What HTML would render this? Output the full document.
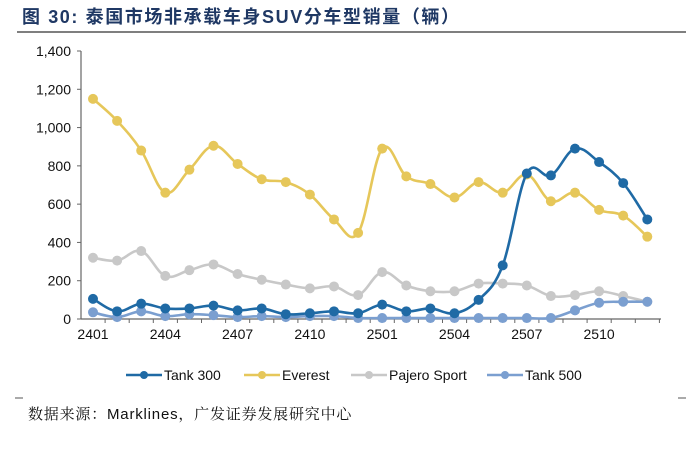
<!DOCTYPE html>
<html><head><meta charset="utf-8"><style>
body{margin:0;background:#fff;width:700px;height:447px;overflow:hidden;font-family:"Liberation Sans","Noto Sans CJK SC",sans-serif}
</style></head><body>
<svg id="c" width="700" height="447" xmlns="http://www.w3.org/2000/svg">
<text x="22" y="23" font-size="18" font-weight="bold" letter-spacing="1.6" fill="#1f3864" font-family="Liberation Sans, Noto Sans CJK SC, sans-serif">图 30: 泰国市场非承载车身SUV分车型销量（辆）</text>
<line x1="17" y1="32" x2="686" y2="32" stroke="#333" stroke-width="1.2"/>
<g id="axes"></g>
<g id="series"></g>
<g id="legend"></g>
<line x1="15" y1="398" x2="23" y2="398" stroke="#555"/>
<line x1="678" y1="398" x2="686" y2="398" stroke="#555"/>
<text x="28" y="419" font-size="15" letter-spacing="0.8" fill="#111" font-family="Liberation Sans, Noto Serif CJK SC, sans-serif">数据来源：Marklines，广发证券发展研究中心</text>
</svg>
<script>
const categories=["2401","2402","2403","2404","2405","2406","2407","2408","2409","2410","2411","2412","2501","2502","2503","2504","2505","2506","2507","2508","2509","2510","2511","2512"];
const tank300=[105,40,80,55,55,70,45,55,25,30,40,30,75,40,55,30,100,280,760,750,890,820,710,520];
const everest=[1150,1035,880,660,780,905,810,730,715,650,520,450,890,745,705,635,715,660,755,615,660,570,540,430];
const pajero=[320,305,355,225,255,285,235,205,180,160,170,125,245,175,145,145,185,185,175,120,125,145,120,90];
const tank500=[35,10,40,15,25,20,10,15,10,15,15,5,5,5,5,5,5,5,5,5,45,85,90,90];
const yTicks=[0,200,400,600,800,1000,1200,1400];
const yTickLabels=["0","200","400","600","800","1,000","1,200","1,400"];
const seriesNames=["Tank 300","Everest","Pajero Sport","Tank 500"];
const NS="http://www.w3.org/2000/svg";
const X0=81,STEP=24.1,Y0=319,YTOP=51,YMAX=1400;
const x=i=>X0+12+i*STEP;
const y=v=>Y0-(v/YMAX)*(Y0-YTOP);
function mk(t,a,p){const e=document.createElementNS(NS,t);for(const k in a)e.setAttribute(k,a[k]);p.appendChild(e);return e;}
const axes=document.getElementById('axes');
let e=mk('line',{x1:X0,y1:YTOP,x2:X0,y2:Y0,stroke:'#666','stroke-width':1.2},axes);

e=mk('line',{x1:X0,y1:Y0,x2:661,y2:Y0,stroke:'#666','stroke-width':1.2},axes);

yTicks.forEach((v,i)=>{
 const tk=mk('line',{x1:X0-4,y1:y(v),x2:X0,y2:y(v),stroke:'#666'},axes);
 
 const t=mk('text',{x:X0-10,y:y(v)+5,'font-size':14,'text-anchor':'end',fill:'#111'},axes);
 t.textContent=yTickLabels[i];
 
});
categories.forEach((c,i)=>{
 const bx=X0+(i+1)*STEP;
 const tk=mk('line',{x1:bx,y1:Y0,x2:bx,y2:Y0+4,stroke:'#666'},axes);
 
 if(i%3===0){
  const t=mk('text',{x:x(i),y:Y0+20,'font-size':14,'text-anchor':'middle',fill:'#111'},axes);
  t.textContent=c;
  
 }
});
function smooth(pts){
 let d=`M${pts[0][0]},${pts[0][1]}`;
 for(let i=0;i<pts.length-1;i++){
  const p0=pts[i-1]||pts[i],p1=pts[i],p2=pts[i+1],p3=pts[i+2]||p2,k=0.18;
  d+=` C${p1[0]+(p2[0]-p0[0])*k},${p1[1]+(p2[1]-p0[1])*k} ${p2[0]-(p3[0]-p1[0])*k},${p2[1]-(p3[1]-p1[1])*k} ${p2[0]},${p2[1]}`;
 }
 return d;
}
const sg=document.getElementById('series');
const data=[[pajero,'#c8c8c8','pajero-sport'],[tank500,'#7b9fd0','tank-500'],[everest,'#e6c75a','everest'],[tank300,'#1f6aa5','tank-300']];
data.forEach(([vals,col,name])=>{
 const g=mk('g',{},sg);
 
 const pts=vals.map((v,i)=>[x(i),y(v)]);
 const p=mk('path',{d:smooth(pts),fill:'none',stroke:col,'stroke-width':2.6},g);
 
 pts.forEach(pt=>{
  const c=mk('circle',{cx:pt[0],cy:pt[1],r:5,fill:col},g);
  
 });
});
const lg=document.getElementById('legend');
const lcols=['#1f6aa5','#e6c75a','#c8c8c8','#7b9fd0'];
const lx=[126,244,351,487];
seriesNames.forEach((n,i)=>{
 const g=mk('g',{},lg);
 
 mk('line',{x1:lx[i],y1:375,x2:lx[i]+36,y2:375,stroke:lcols[i],'stroke-width':2.6},g);
 mk('circle',{cx:lx[i]+18,cy:375,r:4,fill:lcols[i]},g);
 const t=mk('text',{x:lx[i]+38,y:380,'font-size':14,fill:'#111'},g);
 t.textContent=n;
});
</script>
</body></html>
